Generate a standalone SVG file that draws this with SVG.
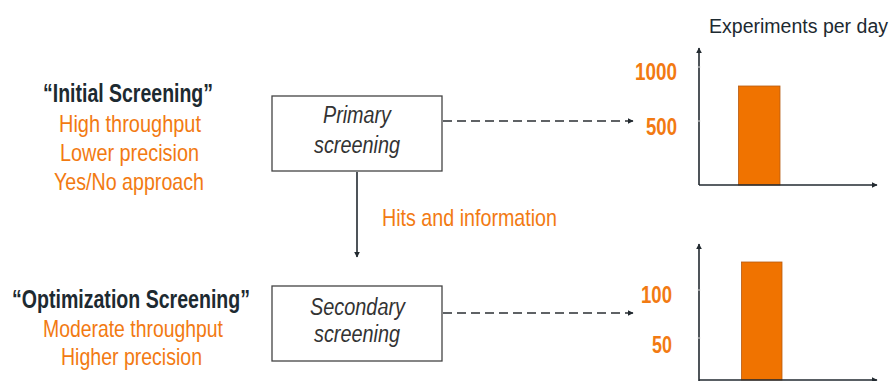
<svg xmlns="http://www.w3.org/2000/svg" width="893" height="381" viewBox="0 0 893 381">
<style>
text{font-family:"Liberation Sans",Arial,sans-serif}
.h{font-weight:bold;fill:#1d2a31;font-size:25px;text-anchor:middle}
.o{fill:#f27a12;font-size:24px;text-anchor:middle}
.b{font-style:italic;fill:#333;font-size:23px;text-anchor:middle}
.n{font-weight:bold;fill:#f27a12;font-size:23px;text-anchor:end}
.box{fill:#fff;stroke:#444;stroke-width:1.3}
.dash{stroke:#2b2f33;stroke-width:1.7;stroke-dasharray:9 5;fill:none}
.ax{stroke:#222a30;stroke-width:1.6;fill:none}
.bar{fill:#f07300;stroke:#b65a10;stroke-width:0.8}
.tick{stroke:#ddd;stroke-width:1}
</style>
<defs>
<marker id="ah" viewBox="0 0 10 10" refX="9" refY="5" markerWidth="6" markerHeight="6" orient="auto" markerUnits="userSpaceOnUse"><path d="M0,0 L10,5 L0,10 z" fill="#222a30"/></marker>
</defs>
<g id="labels-initial">
<text class="h" x="128" y="102" textLength="170" lengthAdjust="spacingAndGlyphs">“Initial Screening”</text>
<text class="o" x="130" y="132" textLength="142" lengthAdjust="spacingAndGlyphs">High throughput</text>
<text class="o" x="129.5" y="161" textLength="139" lengthAdjust="spacingAndGlyphs">Lower precision</text>
<text class="o" x="129" y="190" textLength="150" lengthAdjust="spacingAndGlyphs">Yes/No approach</text>
</g>
<g id="labels-optimization">
<text class="h" x="131" y="308" textLength="238" lengthAdjust="spacingAndGlyphs">“Optimization Screening”</text>
<text class="o" x="133" y="337" textLength="180" lengthAdjust="spacingAndGlyphs">Moderate throughput</text>
<text class="o" x="131.5" y="365" textLength="141" lengthAdjust="spacingAndGlyphs">Higher precision</text>
</g>
<g id="primary">
<rect class="box" x="272" y="96" width="170" height="75"/>
<text class="b" x="357" y="123" textLength="68" lengthAdjust="spacingAndGlyphs">Primary</text>
<text class="b" x="357" y="153" textLength="86" lengthAdjust="spacingAndGlyphs">screening</text>
</g>
<g id="secondary">
<rect class="box" x="272" y="286" width="170" height="75"/>
<text class="b" x="357.5" y="315" textLength="95" lengthAdjust="spacingAndGlyphs">Secondary</text>
<text class="b" x="357" y="342" textLength="86" lengthAdjust="spacingAndGlyphs">screening</text>
</g>
<g id="connectors">
<path class="dash" d="M443,121 H633" marker-end="url(#ah)"/>
<path class="dash" d="M443,313 H633" marker-end="url(#ah)"/>
<path class="ax" d="M357,172 V257" marker-end="url(#ah)"/>
<text x="382" y="226" fill="#f27a12" font-size="24" textLength="175" lengthAdjust="spacingAndGlyphs">Hits and information</text>
</g>
<g id="chart-primary">
<text x="709" y="33" fill="#1d2a31" font-size="20" textLength="179" lengthAdjust="spacingAndGlyphs">Experiments per day</text>
<rect class="bar" x="738.5" y="86" width="41.5" height="99"/>
<path class="ax" d="M699,185 V48" marker-end="url(#ah)"/>
<path class="ax" d="M699,185 H877" marker-end="url(#ah)"/>
<path class="tick" d="M697.5,67 h3 M697.5,121 h3"/>
<text class="n" x="677" y="80" textLength="42" lengthAdjust="spacingAndGlyphs">1000</text>
<text class="n" x="677" y="135" textLength="31" lengthAdjust="spacingAndGlyphs">500</text>
</g>
<g id="chart-secondary">
<rect class="bar" x="741.5" y="262" width="40.5" height="118"/>
<path class="ax" d="M699,382 V244" marker-end="url(#ah)"/>
<path class="ax" d="M699,380 H877" marker-end="url(#ah)"/>
<path class="tick" d="M697.5,290 h3 M697.5,338 h3"/>
<text class="n" x="672" y="303" textLength="31" lengthAdjust="spacingAndGlyphs">100</text>
<text class="n" x="672" y="353" textLength="20" lengthAdjust="spacingAndGlyphs">50</text>
</g>
</svg>
